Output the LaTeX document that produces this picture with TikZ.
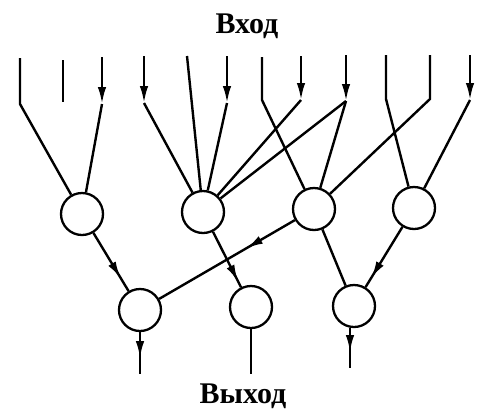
\documentclass[tikz,border=0pt]{standalone}
\usepackage{fontspec}
\setmainfont{Liberation Serif}
\usetikzlibrary{arrows.meta,decorations.markings}
\begin{document}
\begin{tikzpicture}[x=1pt,y=-1pt,
  line width=2.4pt,
  neuron/.style={circle,draw,line width=2.3pt,minimum size=42pt,inner sep=0pt},
  tipa/.style={-{Latex[length=17pt,width=8.5pt]}},
  midarrow/.style={postaction={decorate},decoration={markings,
     mark=at position #1 with {\arrow{Latex[length=17pt,width=8.5pt]}}}},
  lbl/.style={font=\fontsize{30}{32}\selectfont\bfseries,anchor=base,inner sep=0pt}
]
\useasboundingbox (0,0) rectangle (486,410);
% labels
\node[lbl] (in) at (247,33) {Вход};
\node[lbl] (out) at (243,403) {Выход};
% neurons
\node[neuron] (A) at (82,214) {};
\node[neuron] (B) at (203,212) {};
\node[neuron] (C) at (314,209) {};
\node[neuron] (D) at (414,208) {};
\node[neuron] (E) at (140,310) {};
\node[neuron] (F) at (251,307) {};
\node[neuron] (G) at (354,306) {};
% input tops and corners
\coordinate (t1) at (20,58);   \coordinate (c1) at (20,104);
\coordinate (t2) at (63,60);   \coordinate (c2) at (63,102);
\coordinate (t3) at (102,57);  \coordinate (c3) at (102,104);
\coordinate (t4) at (144,56);  \coordinate (c4) at (144,103);
\coordinate (t5) at (187,56);
\coordinate (t6) at (227,56);  \coordinate (c6) at (227,103);
\coordinate (t7) at (262,57);  \coordinate (c7) at (262,100);
\coordinate (t8) at (301,56);  \coordinate (c8) at (301,100);
\coordinate (t9) at (346,55);  \coordinate (c9) at (346,101);
\coordinate (t10) at (386,55); \coordinate (c10) at (386,99);
\coordinate (t11) at (430,55); \coordinate (c11) at (430,99);
\coordinate (t12) at (470,55); \coordinate (c12) at (470,100);
% output ends
\coordinate (oE) at (140,374);
\coordinate (oF) at (251,374);
\coordinate (oG) at (350,368);
% inputs without arrows
\draw (t1) -- (c1) -- (A);
\draw (t2) -- (c2);
\draw (t5) -- (B);
\draw (t7) -- (c7) -- (C);
\draw (t10) -- (c10) -- (D);
\draw (t11) -- (c11) -- (C);
% inputs with arrows
\draw[tipa] (t3) -- (c3);  \draw (c3) -- (A);
\draw[tipa] (t4) -- (c4);  \draw (c4) -- (B);
\draw[tipa] (t6) -- (c6);  \draw (c6) -- (B);
\draw[tipa] (t8) -- (c8);  \draw (c8) -- (B);
\draw[tipa] (t9) -- (c9);  \draw (c9) -- (B); \draw (c9) -- (C);
\draw[tipa] (t12) -- (c12); \draw (c12) -- (D);
% hidden connections
\draw[midarrow=0.78] (A) -- (E);
\draw[midarrow=0.9] (B) -- (F);
\draw[midarrow=0.36] (C) -- (E);
\draw (C) -- (G);
\draw[midarrow=0.85] (D) -- (G);
% outputs
\draw[midarrow=0.62] (E) -- (oE);
\draw (F) -- (oF);
\draw[midarrow=0.6] (G.south -| oG) -- (oG);
\end{tikzpicture}
\end{document}
